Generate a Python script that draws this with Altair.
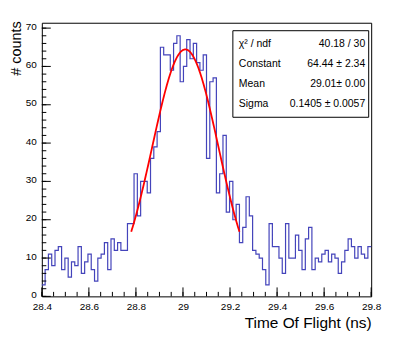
import altair as alt
import numpy as np
import pandas as pd

# ---- data ----
x_min, x_max = 28.4, 29.8
n_bins = 100
counts = [3, 7, 11, 8, 12, 13, 7, 10, 5, 9,
          8, 13, 6, 9, 11, 7, 4, 10, 11, 14,
          7, 15, 12, 14, 12, 12, 19, 19, 32, 21,
          30, 30, 27, 36, 39, 43, 65, 63, 63, 59,
          66, 68, 56, 60, 67, 62, 66, 61, 59, 63,
          36, 56, 57, 27, 32, 42, 22, 30, 20, 24,
          14, 18, 26, 21, 12, 11, 10, 7, 3, 19,
          13, 13, 10, 6, 19, 10, 10, 16, 12, 7,
          15, 18, 7, 10, 9, 11, 12, 9, 11, 10,
          6, 9, 12, 15, 13, 10, 13, 11, 10, 13]

fit_const, fit_mean, fit_sigma = 64.44, 29.01, 0.1405
fit_range = [28.78, 29.24]

stat_names = ["χ² / ndf", "Constant", "Mean", "Sigma"]
stat_values = ["40.18 / 30", "64.44 ± 2.34", "29.01± 0.00", "0.1405 ± 0.0057"]

x_major = [28.4, 28.6, 28.8, 29.0, 29.2, 29.4, 29.6, 29.8]
x_minor = [round(28.4 + 0.05 * i, 3) for i in range(29)]
y_major = [0, 10, 20, 30, 40, 50, 60, 70]
y_minor = list(range(0, 71, 2))
y_top = 71.4

# ---- tables ----
edges = [x_min + (x_max - x_min) * i / n_bins for i in range(n_bins + 1)]
hist_df = pd.DataFrame({"t": edges, "n": counts + [counts[-1]]})
tf = np.linspace(fit_range[0], fit_range[1], 150)
fit_df = pd.DataFrame({"t": tf, "n": fit_const * np.exp(-0.5 * ((tf - fit_mean) / fit_sigma) ** 2)})

W, H = 331, 275
FONT = "Liberation Sans"
xs = alt.Scale(domain=[x_min, x_max], nice=False, zero=False)
ys = alt.Scale(domain=[0, y_top], nice=False)

hist = alt.Chart(hist_df).mark_line(interpolate="step-after", color="#4444bb", strokeWidth=1.2).encode(
    x=alt.X("t:Q", scale=xs, axis=alt.Axis(
        values=x_major, format=".1~f", ticks=False, domain=False, grid=False,
        labelFont=FONT, labelFontSize=10, labelPadding=5, labelColor="black",
        labelOverlap=False, labelFlush=False,
        title="Time Of Flight (ns)", titleFont=FONT, titleFontSize=15.5, titleFontWeight="normal",
        titleColor="black", titleAnchor="end", titleAlign="right", titleX=W, titleY=31,
        titleBaseline="alphabetic")),
    y=alt.Y("n:Q", scale=ys, axis=alt.Axis(
        labels=False, ticks=False, domain=False, grid=False,
        title="# counts", titleFont=FONT, titleFontSize=14.5, titleFontWeight="normal",
        titleColor="black", titleAngle=270, titleAlign="right", titleBaseline="bottom",
        titleAnchor="end", titleX=-18, titleY=-2)),
)

fit = alt.Chart(fit_df).mark_line(color="#ff0000", strokeWidth=1.8).encode(
    x=alt.X("t:Q", scale=xs), y=alt.Y("n:Q", scale=ys))

xmin_t = alt.Chart(pd.DataFrame({"t": x_minor})).mark_rule(color="black", strokeWidth=1).encode(
    x=alt.X("t:Q", scale=xs), y=alt.value(H), y2=alt.value(H - 4.5))
xmaj_t = alt.Chart(pd.DataFrame({"t": x_major})).mark_rule(color="black", strokeWidth=1).encode(
    x=alt.X("t:Q", scale=xs), y=alt.value(H), y2=alt.value(H - 9))
ymin_t = alt.Chart(pd.DataFrame({"n": y_minor})).mark_rule(color="black", strokeWidth=1).encode(
    y=alt.Y("n:Q", scale=ys), x=alt.value(0), x2=alt.value(4.5))
ymaj_t = alt.Chart(pd.DataFrame({"n": y_major})).mark_rule(color="black", strokeWidth=1).encode(
    y=alt.Y("n:Q", scale=ys), x=alt.value(0), x2=alt.value(9))
ylab = alt.Chart(pd.DataFrame({"n": y_major})).mark_text(
    font=FONT, fontSize=10, align="right", baseline="middle", color="black", dy=-1.5).encode(
    y=alt.Y("n:Q", scale=ys), x=alt.value(-5), text=alt.Text("n:Q", format="d"))

box = alt.Chart(pd.DataFrame({"a": [0]})).mark_rect(fill="white", stroke="black", strokeWidth=1).encode(
    x=alt.value(192), x2=alt.value(328.5), y=alt.value(8), y2=alt.value(95))

row_y = [21.5, 41.5, 62, 81.5]
texts = []
for i in range(4):
    d = pd.DataFrame({"a": [stat_names[i]], "b": [stat_values[i]]})
    texts.append(alt.Chart(d).mark_text(font=FONT, fontSize=10.5, align="left", baseline="middle", color="black").encode(
        x=alt.value(198), y=alt.value(row_y[i]), text="a:N"))
    texts.append(alt.Chart(d).mark_text(font=FONT, fontSize=10.5, align="right", baseline="middle", color="black").encode(
        x=alt.value(325), y=alt.value(row_y[i]), text="b:N"))

chart = alt.layer(hist, fit, xmin_t, xmaj_t, ymin_t, ymaj_t, ylab, box, *texts).properties(
    width=W, height=H,
    autosize=alt.AutoSizeParams(type="none"),
    padding={"left": 34, "top": 14, "right": 36, "bottom": 38},
    background="white",
).configure_view(stroke="black", strokeWidth=1)

chart.save("out.html", embed_options={"renderer": "svg", "actions": False})
